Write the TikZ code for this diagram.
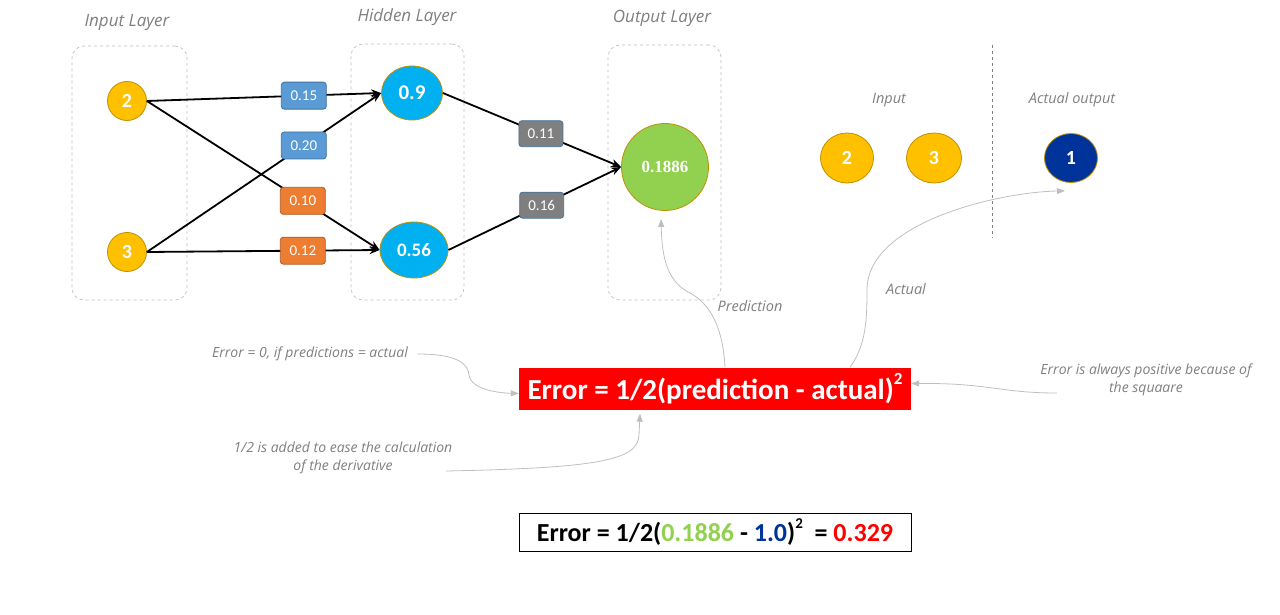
\documentclass[tikz,border=0pt]{standalone}
\usepackage{fontspec}
\setmainfont{Carlito}
\newfontfamily\numserif{Liberation Serif}
\newfontfamily\handfont{Open Sans}
\usetikzlibrary{arrows.meta,calc,shapes.geometric}
\definecolor{gold}{HTML}{FFC000}
\definecolor{goldline}{HTML}{BF9000}
\definecolor{sky}{HTML}{00B0F0}
\definecolor{leaf}{HTML}{92D050}
\definecolor{navy}{HTML}{003399}
\definecolor{wblue}{HTML}{5B9BD5}
\definecolor{wblueline}{HTML}{41719C}
\definecolor{worange}{HTML}{ED7D31}
\definecolor{worangeline}{HTML}{AE5A21}
\definecolor{wgray}{HTML}{7F7F7F}
\definecolor{notegray}{HTML}{7F7F7F}
\definecolor{errred}{HTML}{FF0000}
\tikzset{
 layerbox/.style={draw=gray!50,dashed,rounded corners=12pt,line width=.7pt},
 layername/.style={text=notegray,font=\fontsize{17}{17}\selectfont\handfont\itshape},
 smallname/.style={text=notegray,font=\fontsize{14.5}{14.5}\selectfont\handfont\itshape},
 notetext/.style={text=notegray,font=\fontsize{14}{18}\selectfont\handfont\itshape,align=center},
 neuron/.style={ellipse,draw=goldline,line width=.8pt,inner sep=0,text=white,font=\fontsize{20}{20}\selectfont\bfseries},
 wire/.style={line width=1.8pt,-{Stealth[length=10pt,width=8pt]}},
 weight/.style={rectangle,rounded corners=3pt,fill=#1,text=white,minimum width=45pt,minimum height=27pt,inner sep=0,line width=.8pt,font=\fontsize{15}{15}\selectfont},
 notearrow/.style={draw=gray!50,line width=.8pt,-{Triangle[length=8pt,width=6pt]}},
 sepline/.style={draw=gray,dashed,line width=.8pt},
 errbox/.style={fill=errred,text=white,minimum width=392pt,minimum height=42pt,inner sep=0,font=\fontsize{29}{29}\selectfont\bfseries},
 calcbox/.style={draw=black,line width=.8pt,fill=white,minimum width=392pt,minimum height=38pt,inner sep=0,font=\fontsize{26}{26}\selectfont\bfseries}
}

\begin{document}
\begin{tikzpicture}[x=1pt,y=-1pt]
\path[use as bounding box] (0,0) rectangle (1280,615);
% layers
\node[layerbox,minimum width=115pt,minimum height=254pt] (inbox) at (129.5,173) {};
\node[layerbox,minimum width=113pt,minimum height=256pt] (hidbox) at (407.5,172) {};
\node[layerbox,minimum width=113pt,minimum height=255pt] (outbox) at (664.5,172.5) {};
\node[layername] (inlbl) at (127,22) {Input Layer};
\node[layername] (hidlbl) at (407,17) {Hidden Layer};
\node[layername] (outlbl) at (662,18) {Output Layer};
% neurons
\node[neuron,fill=gold,minimum width=39pt,minimum height=39pt] (in2) at (127,101) {2};
\node[neuron,fill=gold,minimum width=39pt,minimum height=39pt] (in3) at (127,252) {3};
\node[neuron,fill=sky,minimum width=61pt,minimum height=54pt,font=\fontsize{21}{21}\selectfont\bfseries] (h1) at (412,93) {0.9};
\node[neuron,fill=sky,minimum width=68pt,minimum height=56pt,font=\fontsize{19}{19}\selectfont\bfseries] (h2) at (414,250) {0.56};
\node[neuron,fill=leaf,minimum width=87pt,minimum height=87pt,font=\fontsize{17}{17}\selectfont\numserif\bfseries] (out) at (665,167) {0.1886};
% weights
\draw[wire] (in2.east) -- (h1.west) node[weight=wblue,draw=wblueline,pos=.67] (w15) {0.15};
\draw[wire] (in3.east) -- (h1.west) node[weight=wblue,draw=wblueline,pos=.67] (w20) {0.20};
\draw[wire] (in2.east) -- (h2.west) node[weight=worange,draw=worangeline,pos=.67] (w10) {0.10};
\draw[wire] (in3.east) -- (h2.west) node[weight=worange,draw=worangeline,pos=.67] (w12) {0.12};
\draw[wire] (h1.east) -- (out.west) node[weight=wgray,draw=wblueline,minimum width=44pt,minimum height=26pt,pos=.55] (w11) {0.11};
\draw[wire] (h2.east) -- (out.west) node[weight=wgray,draw=wblueline,minimum width=44pt,minimum height=26pt,pos=.54] (w16) {0.16};
% sample
\node[smallname] (smplbl) at (889,100) {Input};
\node[smallname] (actlbl) at (1072,100) {Actual output};
\node[neuron,fill=gold,minimum width=53pt,minimum height=50pt] (x2) at (847,158) {2};
\node[neuron,fill=gold,minimum width=55pt,minimum height=50pt] (x3) at (934,158) {3};
\node[neuron,fill=navy,minimum width=53pt,minimum height=49pt] (act) at (1071,158) {1};
\coordinate (septop) at (992,45);
\coordinate (sepbot) at (992,238);
\draw[sepline] (septop) -- (sepbot);
% error
\node[errbox] (err) at (715,388.5) {Error = 1/2(prediction - actual)\raisebox{1.1ex}{\fontsize{17}{17}\selectfont 2}};
\node[calcbox] (calc) at (715,532) {Error = 1/2(\textcolor{leaf}{0.1886} - \textcolor{navy}{1.0})\raisebox{1.05ex}{\fontsize{15}{15}\selectfont 2}\ \ = \textcolor{errred}{0.329}};
% notes
\node[smallname] (predlbl) at (750,306) {Prediction};
\node[smallname] (actual) at (906,289) {Actual};
\node[notetext] (zero) at (310,354) {Error = 0, if predictions = actual};
\node[notetext] (half) at (343,458) {1/2 is added to ease the calculation\\of the derivative};
\node[notetext] (pos) at (1146,380) {Error is always positive because of\\the squaare};
\draw[notearrow] ([xshift=10pt]err.north) .. controls (723,330) and (712,305) .. (690,293) .. controls (668,282) and (662,260) .. ([xshift=-4pt,yshift=-8pt]out.south);
\draw[notearrow] ([xshift=135pt]err.north) .. controls (866,345) and (867,320) .. (867,290) .. controls (867,222) and (1000,192) .. ([xshift=-6pt,yshift=-8pt]act.south);
\draw[notearrow] ([xshift=6pt]zero.east) .. controls (460,354) and (468,365) .. (469,375) .. controls (471,390) and (500,393) .. ([yshift=-5pt]err.west);
\draw[notearrow] ($(half.east)+(-10,13)$) .. controls (600,468) and (638,460) .. (639,435) -- ([xshift=-75pt,yshift=-4pt]err.south);
\draw[notearrow] ($(pos.west)+(20,13)$) .. controls (1000,393) and (990,383) .. ([yshift=5pt]err.east);
\end{tikzpicture}
\end{document}
